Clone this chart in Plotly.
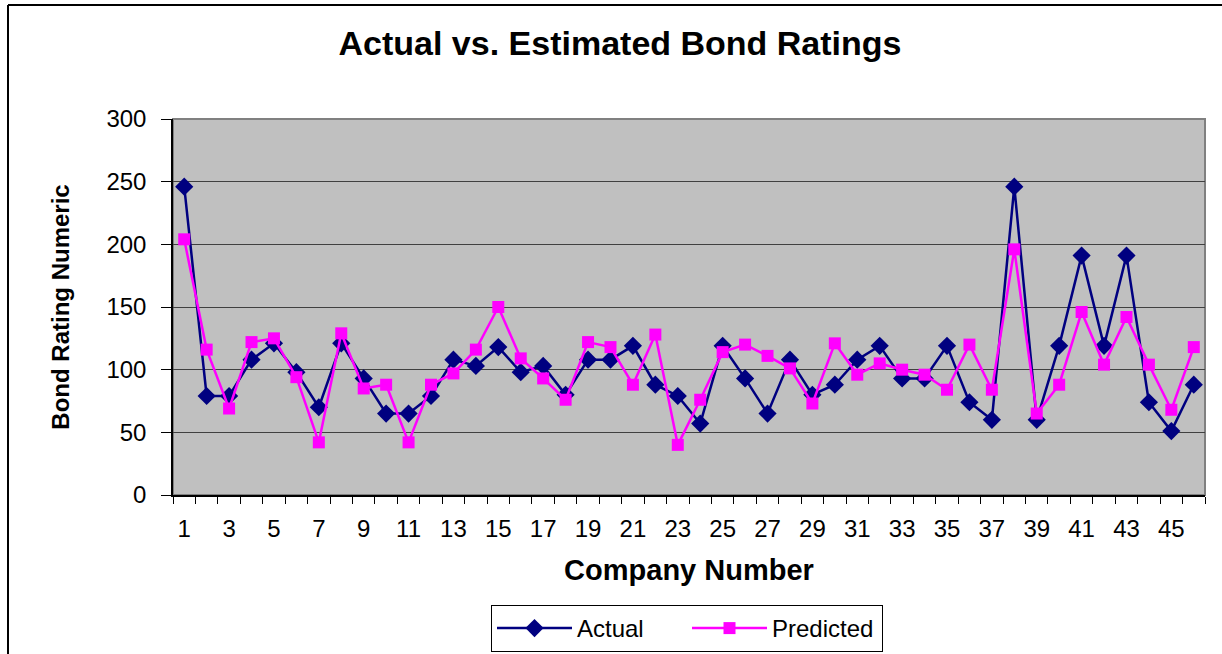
import plotly.graph_objects as go

companies = list(range(1, 47))
actual = [246, 79, 79, 108, 121, 98, 70, 121, 93, 65,
          65, 79, 108, 103, 118, 98, 103, 80, 108, 108,
          119, 88, 79, 57, 119, 93, 65, 108, 80, 88,
          108, 119, 93, 93, 119, 74, 60, 246, 60, 119,
          191, 119, 191, 74, 51, 88]
predicted = [204, 116, 69, 122, 125, 94, 42, 129, 85, 88,
             42, 88, 97, 116, 150, 109, 93, 76, 122, 118,
             88, 128, 40, 76, 114, 120, 111, 101, 73, 121,
             96, 105, 100, 96, 84, 120, 84, 196, 65, 88,
             146, 104, 142, 104, 68, 118]
y_ticks = [0, 50, 100, 150, 200, 250, 300]
x_tick_labels = [str(c) for c in companies if c % 2 == 1]

FONT = "Liberation Sans, Arial, sans-serif"

fig = go.Figure()
fig.add_trace(go.Scatter(
    x=companies, y=actual, name="Actual", mode="lines+markers",
    line=dict(color="#000080", width=2.5),
    marker=dict(symbol="diamond", size=14, color="#000080"),
))
fig.add_trace(go.Scatter(
    x=companies, y=predicted, name="Predicted", mode="lines+markers",
    line=dict(color="#FF00FF", width=2.5),
    marker=dict(symbol="square", size=12, color="#FF00FF"),
))

W, H = 1222, 654
L, R, T, B = 173, 17, 119, 159
pw, ph = W - L - R, H - T - B

def px_x(p):
    return (p - L) / pw

def px_y(p):
    return (H - B - p) / ph

shapes = [
    # outer frame (left and top visible)
    dict(type="line", xref="paper", yref="paper", x0=px_x(8), x1=px_x(1240),
         y0=px_y(5), y1=px_y(5), line=dict(color="black", width=2)),
    dict(type="line", xref="paper", yref="paper", x0=px_x(8), x1=px_x(8),
         y0=px_y(5), y1=px_y(700), line=dict(color="black", width=2)),
    # plot area border (gray top / right)
    dict(type="rect", xref="paper", yref="paper", x0=0, x1=1, y0=0, y1=1,
         line=dict(color="#808080", width=2), layer="below"),
]

fig.update_layout(
    width=W, height=H,
    margin=dict(l=L, r=R, t=T, b=B, pad=0),
    paper_bgcolor="white",
    plot_bgcolor="#C0C0C0",
    font=dict(family=FONT, color="black"),
    title=dict(text="<b>Actual vs. Estimated Bond Ratings</b>",
               font=dict(size=34, family=FONT, color="black"),
               x=620 / W, xref="container", xanchor="center",
               y=1 - 43 / H, yref="container", yanchor="middle"),
    showlegend=True,
    legend=dict(orientation="h", xref="container", yref="container",
                x=687 / W, xanchor="center", y=1 - 652 / H, yanchor="bottom",
                bordercolor="black", borderwidth=1, bgcolor="white",
                font=dict(size=24, family=FONT, color="black"),
                entrywidth=105, itemwidth=75),
    shapes=shapes,
)

fig.update_xaxes(
    range=[0.5, 46.5], tickmode="array",
    tickvals=[c for c in companies if c % 2 == 1], ticktext=x_tick_labels,
    ticks="outside", ticklen=0, tickfont=dict(size=24, family=FONT, color="black"),
    ticklabelstandoff=11,
    showgrid=False, zeroline=False,
    showline=True, linecolor="black", linewidth=1.5,
    minor=dict(tickmode="linear", tick0=0.5, dtick=1, ticks="outside",
               ticklen=7, tickcolor="black", tickwidth=1, showgrid=False),
    title=dict(text="<b>Company Number</b>", font=dict(size=29, family=FONT, color="black"),
               standoff=19),
)
fig.update_yaxes(
    range=[0, 300], tickmode="array", tickvals=y_ticks,
    ticks="outside", ticklen=10, tickcolor="black", tickwidth=1,
    tickfont=dict(size=24, family=FONT, color="black"),
    ticklabelstandoff=10,
    showgrid=True, gridcolor="#404040", gridwidth=1.2, zeroline=False,
    showline=True, linecolor="black", linewidth=1.5,
    title=dict(text="<b>Bond Rating Numeric</b>", font=dict(size=24, family=FONT, color="black"),
               standoff=30),
)

fig.write_html("out.html", config={"displayModeBar": False},
               post_script="document.body.style.margin='0';document.body.style.overflow='hidden';")
